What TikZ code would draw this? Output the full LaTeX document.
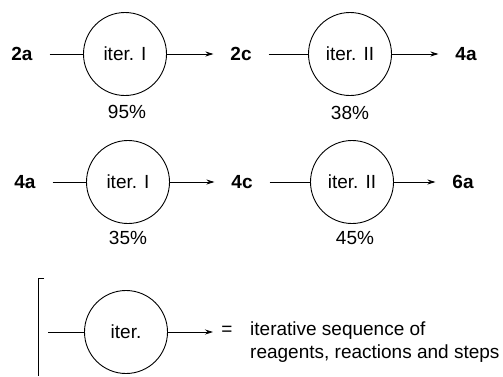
\documentclass[tikz,border=0pt]{standalone}
\usepackage{fontspec}
\setmainfont{Liberation Sans}
\usetikzlibrary{arrows.meta}
\begin{document}
\begin{tikzpicture}[x=1pt,y=-1pt,
  font=\fontsize{19}{23}\selectfont,
  iterc/.style={circle,draw,line width=0.9pt,minimum size=83pt,inner sep=0pt},
  cmpd/.style={font=\fontsize{19}{23}\selectfont\bfseries,inner sep=0pt,outer xsep=17pt},
  conn/.style={line width=0.8pt},
  arr/.style={conn,-{Stealth[length=8pt,width=5pt]}},
  yld/.style={inner sep=0pt}]
\useasboundingbox (0,0) rectangle (503,376);
% row 1
\node[cmpd] (r1a) at (22,54) {2a};
\node[iterc] (r1c1) at (125,54) {iter. I};
\node[cmpd] (r1b) at (241,54) {2c};
\node[iterc] (r1c2) at (350,54) {iter. II};
\node[cmpd] (r1d) at (466,54) {4a};
\node[yld] (y1) at (127,112) {95\%};
\node[yld] (y2) at (350,113) {38\%};
\draw[conn] (r1a) -- (r1c1);
\draw[arr] (r1c1) -- (r1b);
\draw[conn] (r1b) -- (r1c2);
\draw[arr] (r1c2) -- (r1d);
% row 2
\node[cmpd] (r2a) at (25,182) {4a};
\node[iterc] (r2c1) at (128,182) {iter. I};
\node[cmpd] (r2b) at (242,182) {4c};
\node[iterc] (r2c2) at (352,182) {iter. II};
\node[cmpd] (r2d) at (463,182) {6a};
\node[yld] (y3) at (128,238) {35\%};
\node[yld] (y4) at (355,238) {45\%};
\draw[conn] (r2a) -- (r2c1);
\draw[arr] (r2c1) -- (r2b);
\draw[conn] (r2b) -- (r2c2);
\draw[arr] (r2c2) -- (r2d);
% legend
\draw[conn] (44,278) -- (38,278) -- (38,376);
\coordinate (ls) at (48,332);
\coordinate (le) at (213,332);
\node[iterc] (lc) at (126,332) {iter.};
\draw[conn] (ls) -- (lc);
\draw[arr] (lc) -- (le);
\node[inner sep=0pt] (eq) at (227,331) {=};
\node[inner sep=0pt,anchor=west,align=left] (def) at (250,342) {iterative sequence of\\reagents, reactions and steps};
\end{tikzpicture}
\end{document}
